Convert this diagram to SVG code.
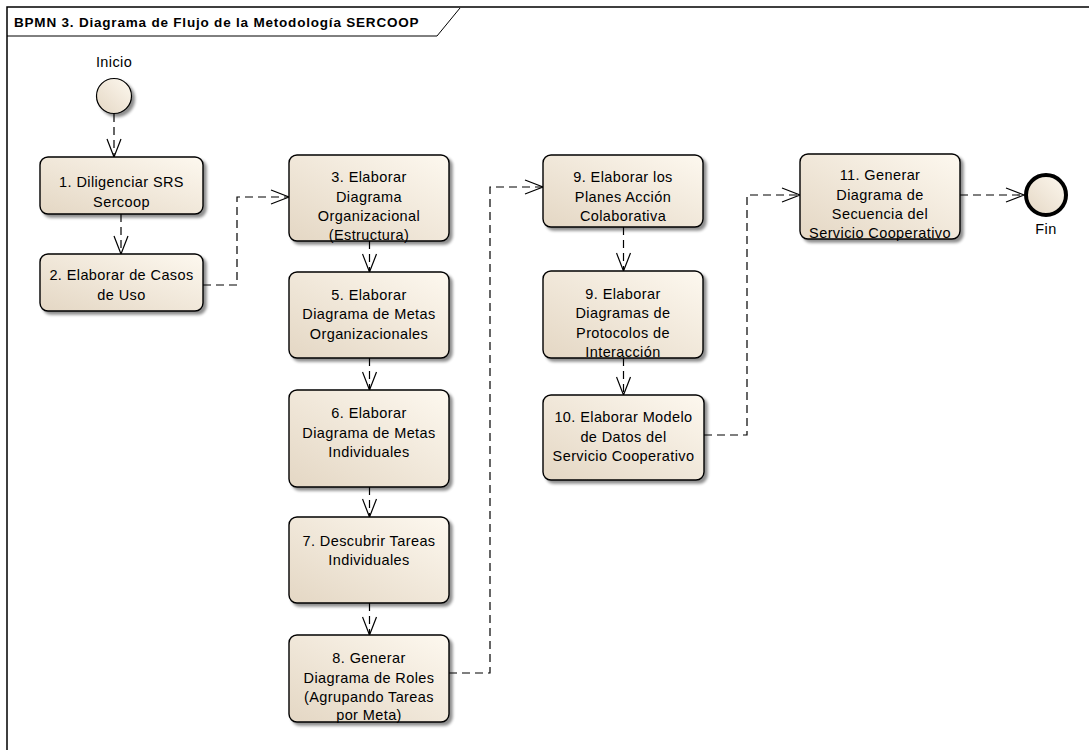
<svg xmlns="http://www.w3.org/2000/svg" width="1089" height="750" viewBox="0 0 1089 750">
  <defs>
    <linearGradient id="taskFill" x1="0" y1="1" x2="1" y2="0">
      <stop offset="0" stop-color="#e4d7c4"/>
      <stop offset="1" stop-color="#fdf8ef"/>
    </linearGradient>
    <filter id="shadow" x="-10%" y="-10%" width="130%" height="130%">
      <feGaussianBlur in="SourceAlpha" stdDeviation="1.5"/>
      <feOffset dx="3" dy="3" result="blur"/>
      <feComponentTransfer><feFuncA type="linear" slope="0.45"/></feComponentTransfer>
      <feMerge><feMergeNode/><feMergeNode in="SourceGraphic"/></feMerge>
    </filter>
    <!-- open V arrowhead for sequence flows -->
    <marker id="open" viewBox="0 0 20 16" refX="19" refY="8" markerWidth="20" markerHeight="16" markerUnits="userSpaceOnUse" orient="auto">
      <path d="M1,1 L19,8 L1,15" fill="none" stroke="#000" stroke-width="1.2"/>
    </marker>
  </defs>
  <style>
    .frame { fill: none; stroke: #000; stroke-width: 1.5; }
    .tab { fill: none; stroke: #000; stroke-width: 1; }
    .title { font-family: "Liberation Sans", Arial, sans-serif; font-size: 13.5px; letter-spacing: 0.8px; font-weight: bold; fill: #000; }
    .task { fill: url(#taskFill); stroke: #000; stroke-width: 1.4; filter: url(#shadow); }
    .label { font-family: "Liberation Sans", Arial, sans-serif; font-size: 14.5px; letter-spacing: 0.4px; fill: #000; text-anchor: middle; }
    .flow { fill: none; stroke: #000; stroke-width: 1.2; stroke-dasharray: 8 5; marker-end: url(#open); }
    .start { fill: url(#taskFill); stroke: #000; stroke-width: 1.2; filter: url(#shadow); }
    .end { fill: url(#taskFill); stroke: #000; stroke-width: 4; }
  </style>

  <!-- diagram frame with title tab -->
  <g id="frame">
    <path class="frame" d="M7,750 V7 H1089"/>
    <path class="tab" d="M7,36 H437 L460,8"/>
    <text class="title" x="14" y="27">BPMN 3. Diagrama de Flujo de la Metodología SERCOOP</text>
  </g>

  <!-- sequence flows -->
  <g id="connectors">
    <path class="flow" d="M114,114 V157"/>
    <path class="flow" d="M121,214 V254"/>
    <path class="flow" d="M203,285 H237 V197 H289"/>
    <path class="flow" d="M369.5,241 V272"/>
    <path class="flow" d="M369.5,358 V390"/>
    <path class="flow" d="M369.5,487 V517"/>
    <path class="flow" d="M369.5,603 V635"/>
    <path class="flow" d="M449,673 H490 V187 H543"/>
    <path class="flow" d="M623.5,227 V271"/>
    <path class="flow" d="M623.5,358 V395"/>
    <path class="flow" d="M704,435 H747 V195 H800"/>
    <path class="flow" d="M960,195 H1024"/>
  </g>

  <g id="start">
    <circle class="start" cx="114" cy="96" r="17.5"/>
    <text class="label" x="114" y="67">Inicio</text>
  </g>

  <g id="task1">
    <rect class="task" x="40" y="157" width="163" height="57" rx="8"/>
    <text class="label" x="121.5" y="187">1. Diligenciar SRS</text>
    <text class="label" x="121.5" y="207">Sercoop</text>
  </g>

  <g id="task2">
    <rect class="task" x="40" y="254" width="163" height="57" rx="8"/>
    <text class="label" x="121.5" y="280">2. Elaborar de Casos</text>
    <text class="label" x="121.5" y="300">de Uso</text>
  </g>

  <g id="task3">
    <rect class="task" x="289" y="155" width="160" height="86" rx="8"/>
    <text class="label" x="369" y="182">3. Elaborar</text>
    <text class="label" x="369" y="202">Diagrama</text>
    <text class="label" x="369" y="221">Organizacional</text>
    <text class="label" x="369" y="240">(Estructura)</text>
  </g>

  <g id="task5">
    <rect class="task" x="289" y="272" width="160" height="86" rx="8"/>
    <text class="label" x="369" y="300">5. Elaborar</text>
    <text class="label" x="369" y="319">Diagrama de Metas</text>
    <text class="label" x="369" y="339">Organizacionales</text>
  </g>

  <g id="task6">
    <rect class="task" x="289" y="390" width="160" height="97" rx="8"/>
    <text class="label" x="369" y="418">6. Elaborar</text>
    <text class="label" x="369" y="438">Diagrama de Metas</text>
    <text class="label" x="369" y="457">Individuales</text>
  </g>

  <g id="task7">
    <rect class="task" x="289" y="517" width="160" height="86" rx="8"/>
    <text class="label" x="369" y="546">7. Descubrir Tareas</text>
    <text class="label" x="369" y="565">Individuales</text>
  </g>

  <g id="task8">
    <rect class="task" x="289" y="635" width="160" height="87" rx="8"/>
    <text class="label" x="369" y="663">8. Generar</text>
    <text class="label" x="369" y="683">Diagrama de Roles</text>
    <text class="label" x="369" y="702">(Agrupando Tareas</text>
    <text class="label" x="369" y="720">por Meta)</text>
  </g>

  <g id="task9a">
    <rect class="task" x="543" y="155" width="160" height="72" rx="8"/>
    <text class="label" x="623" y="182">9. Elaborar los</text>
    <text class="label" x="623" y="202">Planes Acción</text>
    <text class="label" x="623" y="221">Colaborativa</text>
  </g>

  <g id="task9b">
    <rect class="task" x="543" y="271" width="160" height="87" rx="8"/>
    <text class="label" x="623" y="299">9. Elaborar</text>
    <text class="label" x="623" y="318">Diagramas de</text>
    <text class="label" x="623" y="338">Protocolos de</text>
    <text class="label" x="623" y="357">Interacción</text>
  </g>

  <g id="task10">
    <rect class="task" x="543" y="395" width="161" height="85" rx="8"/>
    <text class="label" x="623.5" y="422">10. Elaborar Modelo</text>
    <text class="label" x="623.5" y="442">de Datos del</text>
    <text class="label" x="623.5" y="461">Servicio Cooperativo</text>
  </g>

  <g id="task11">
    <rect class="task" x="800" y="154" width="160" height="85" rx="8"/>
    <text class="label" x="880" y="180">11. Generar</text>
    <text class="label" x="880" y="200">Diagrama de</text>
    <text class="label" x="880" y="219">Secuencia del</text>
    <text class="label" x="880" y="238">Servicio Cooperativo</text>
  </g>

  <g id="end">
    <circle class="end" cx="1046" cy="195" r="20"/>
    <text class="label" x="1046" y="234">Fin</text>
  </g>
</svg>
